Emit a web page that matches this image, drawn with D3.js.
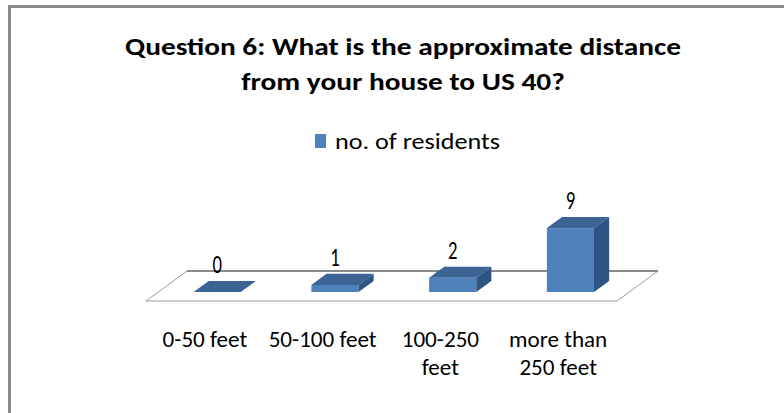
<!DOCTYPE html>
<html>
<head>
<meta charset="utf-8">
<script src="https://cdn.jsdelivr.net/npm/d3@7"></script>
<style>
  html, body { margin: 0; padding: 0; background: #fff; }
  svg { display: block; }
  text { font-family: Carlito, Calibri, Lato, "Open Sans", sans-serif; fill: #000; }
</style>
</head>
<body>
<svg id="chart" width="784" height="413"></svg>
<script>
// Survey answers: distance from each house to US 40
const categories = ["0-50 feet", "50-100 feet", "100-250 feet", "more than 250 feet"];
const residents = [0, 1, 2, 9];
const tickLines = [["0-50 feet"], ["50-100 feet"], ["100-250", "feet"], ["more than", "250 feet"]];
const seriesName = "no. of residents";
const titleLines = ["Question 6: What is the approximate distance", "from your house to US 40?"];
const valueDomain = [0, 10];

const W = 784, H = 413;
const svg = d3.select("#chart");

// Stretch a group of text nodes horizontally by a common factor
function stretch(sel, factor) {
  sel.each(function () {
    const len = this.getComputedTextLength();
    d3.select(this).attr("textLength", len * factor).attr("lengthAdjust", "spacingAndGlyphs");
  });
}
function factorFor(node, target) { return target / node.getComputedTextLength(); }

// Frame (left and top edges)
svg.append("path")
  .attr("d", `M9.5,${H} L9.5,6.5 L${W},6.5`)
  .attr("fill", "none").attr("stroke", "#8a8a8a").attr("stroke-width", 3);

// Title
const title = svg.append("g");
const tl = title.selectAll("text").data(titleLines).join("text")
  .attr("x", 403).attr("y", (d, i) => 55 + i * 35)
  .attr("text-anchor", "middle")
  .attr("font-size", 25).attr("font-weight", "bold")
  .text(d => d);
stretch(tl, factorFor(tl.node(), 556));

// Legend
const legend = svg.append("g");
legend.append("rect").attr("x", 315).attr("y", 134).attr("width", 11).attr("height", 14).attr("fill", "#4F81BD");
const lt = legend.append("text").attr("x", 335).attr("y", 149).attr("font-size", 22).text(seriesName);
stretch(lt, factorFor(lt.node(), 165));

// Pseudo-3D plot geometry
const frontY = 301;                // front edge of the floor
const depth = [41, -30];           // floor depth vector
const barDepthStart = 0.3, barDepthEnd = 0.67;

const x = d3.scaleBand().domain(categories).range([146, 617]).paddingInner(0).paddingOuter(0);
const h = d3.scaleLinear().domain(valueDomain).range([0, 71]);
const barW = x.bandwidth() * 0.4;
const ddx = depth[0] * (barDepthEnd - barDepthStart);
const ddy = depth[1] * (barDepthEnd - barDepthStart);

// Floor
const x0f = x.range()[0], x1f = x.range()[1];
const floor = svg.append("g");
floor.append("path")
  .attr("d", `M${x0f},${frontY} L${x1f},${frontY} L${x1f + depth[0]},${frontY + depth[1]} L${x0f + depth[0]},${frontY + depth[1]} Z`)
  .attr("fill", "#fff").attr("stroke", "#9a9a9a").attr("stroke-width", 1);
floor.append("line")
  .attr("x1", x0f + depth[0]).attr("x2", x1f + depth[0])
  .attr("y1", frontY + depth[1]).attr("y2", frontY + depth[1])
  .attr("stroke", "#8a8a8a").attr("stroke-width", 2);

// Bars
const data = categories.map((c, i) => ({ c, v: residents[i] }));
const bars = svg.append("g").selectAll("g").data(data).join("g");
const bx = d => x(d.c) + (x.bandwidth() - barW) / 2 + depth[0] * barDepthStart;
const base = frontY + depth[1] * barDepthStart;
const barTop = d => base - h(d.v);

bars.append("rect")
  .attr("x", bx).attr("y", barTop).attr("width", barW).attr("height", d => h(d.v))
  .attr("fill", "#4F81BD");
bars.append("path")
  .attr("d", d => `M${bx(d)},${barTop(d)} L${bx(d) + ddx},${barTop(d) + ddy} L${bx(d) + barW + ddx},${barTop(d) + ddy} L${bx(d) + barW},${barTop(d)} Z`)
  .attr("fill", "#3B6394");
bars.append("path")
  .attr("d", d => `M${bx(d) + barW},${barTop(d)} L${bx(d) + barW + ddx},${barTop(d) + ddy} L${bx(d) + barW + ddx},${base + ddy} L${bx(d) + barW},${base} Z`)
  .attr("fill", "#2E5483");

// Value labels
const vl = bars.append("text")
  .attr("x", d => bx(d) + barW / 2)
  .attr("y", d => barTop(d) + ddy - 8)
  .attr("text-anchor", "middle")
  .attr("font-size", 26)
  .text(d => d.v);
stretch(vl, 0.72);

// Category axis
const axis = svg.append("g")
  .attr("transform", `translate(0,${frontY})`)
  .call(d3.axisBottom(x).tickSize(0).tickFormat(() => ""));
axis.select(".domain").remove();
axis.selectAll(".tick text").remove();
const ticks = axis.selectAll(".tick").append("text")
  .attr("text-anchor", "middle")
  .attr("font-size", 22)
  .attr("fill", "#000");
ticks.each(function (d, i) {
  d3.select(this).selectAll("tspan").data(tickLines[i]).join("tspan")
    .attr("x", 0).attr("y", (t, j) => 46 + j * 28).text(t => t);
});
const tsp = axis.selectAll(".tick tspan");
const ref = tsp.filter(t => t === "50-100 feet").node();
stretch(tsp, factorFor(ref, 108));
</script>
</body>
</html>
